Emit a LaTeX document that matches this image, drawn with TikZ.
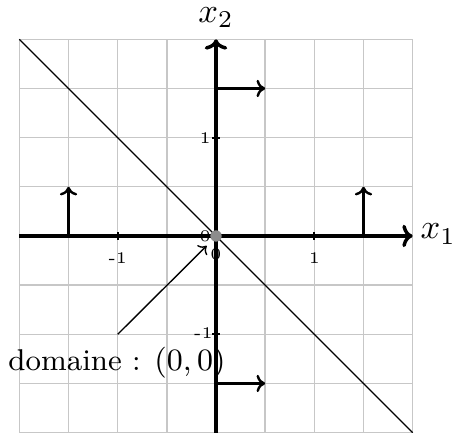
\documentclass[tikz,border=0pt]{standalone}
\usetikzlibrary{arrows.meta}
\begin{document}
\begin{tikzpicture}[x=1cm,y=1cm,
  gridline/.style={draw=black!22, line width=0.4pt},
  axis/.style={line width=1pt, -{To[length=3pt,width=6.5pt,line width=1pt]}},
  vec/.style={line width=0.7pt, -{To[length=2.5pt,width=5pt]}},
  tick/.style={line width=0.5pt},
  ticklab/.style={font=\fontsize{4.7}{5}\selectfont, inner sep=1pt},
  axlab/.style={font=\fontsize{10}{12}\selectfont}]
\useasboundingbox (-2.197,-1.994) rectangle (2.40,2.40);
\draw[gridline] (-2,-2) grid[step=0.5] (2,2);
\draw[line width=0.35pt] (-2,2) -- (2,-2);
% axes
\coordinate (xs) at (-2,0); \coordinate (xe) at (2,0);
\coordinate (ys) at (0,-2); \coordinate (ye) at (0,2);
\draw[axis] (xs) -- (xe);
\draw[axis] (ys) -- (ye);
\node[axlab] (x1) at (2.26,0.02) {$x_1$};
\node[axlab] (x2) at (0,2.22) {$x_2$};
% ticks
\foreach \v in {-1,1}{
  \draw[tick] (\v,-0.04) -- (\v,0.04);
  \draw[tick] (-0.04,\v) -- (0.04,\v);
}
\node[ticklab] (tx0) at (0,-0.19) {0};
\node[ticklab] (ty0) at (-0.11,0) {0};
\node[ticklab] (txm) at (-1,-0.22) {-1};
\node[ticklab] (txp) at (1,-0.22) {1};
\node[ticklab] (typ) at (-0.11,1) {1};
\node[ticklab] (tym) at (-0.13,-0.99) {-1};
% vectors
\coordinate (a0) at (-1.5,0); \coordinate (a1) at (-1.5,0.5);
\coordinate (b0) at (1.5,0); \coordinate (b1) at (1.5,0.5);
\coordinate (c0) at (0,1.5); \coordinate (c1) at (0.5,1.5);
\coordinate (d0) at (0,-1.5); \coordinate (d1) at (0.5,-1.5);
\draw[vec] (a0) -- (a1);
\draw[vec] (b0) -- (b1);
\draw[vec] (c0) -- (c1);
\draw[vec] (d0) -- (d1);
% origin dot
\node[circle, fill=black!45, inner sep=0pt, minimum size=3.3pt] (o) at (0,0) {};
% annotation
\coordinate (as) at (-1,-1); \coordinate (ae) at (-0.095,-0.1);
\draw[line width=0.4pt, -{To[length=2pt,width=4pt]}] (as) -- (ae);
\node[anchor=base, font=\fontsize{8.7}{11}\selectfont, inner sep=0pt] (dom) at (-1.007,-1.37) {domaine : $(0,0)$};
\end{tikzpicture}
\end{document}
